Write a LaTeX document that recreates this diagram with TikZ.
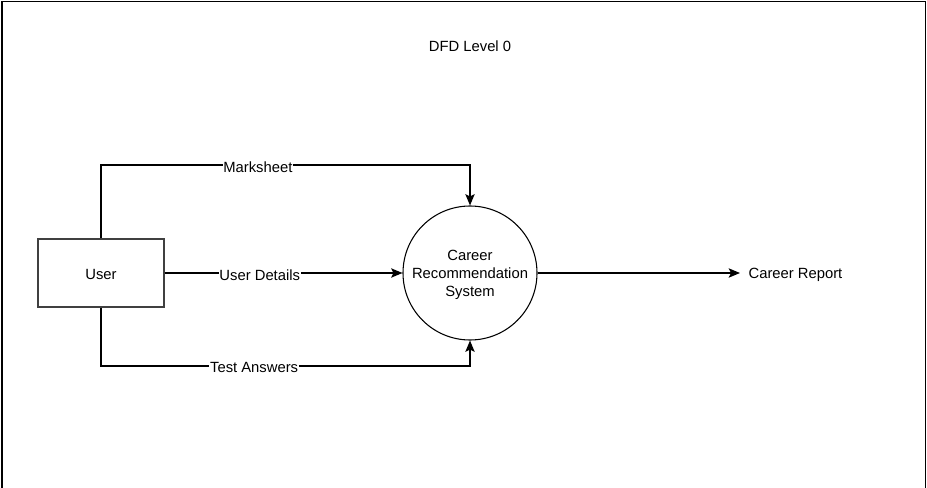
\documentclass[tikz,border=0pt]{standalone}
\usepackage{fontspec}
\setmainfont{Liberation Sans}
\usetikzlibrary{arrows.meta}
\begin{document}
\begin{tikzpicture}[x=0.75pt,y=-0.75pt,
  every node/.style={font=\fontsize{11.1}{13.5}\selectfont, inner sep=1pt},
  flow/.style={draw=black, line width=1pt, -{Stealth[length=8.5pt,width=7pt,inset=1.8pt]}},
  lbl/.style={fill=white, inner sep=0.5pt, yshift=-1.3pt},
  entity/.style={draw=black!75, line width=1pt, minimum width=126*0.75pt, minimum height=68*0.75pt, inner sep=0pt},
  process/.style={draw=black, line width=0.8pt, circle, minimum size=134*0.75pt, inner sep=0pt}]
\useasboundingbox (0,0) rectangle (927,488);
\draw[line width=1.2pt] (1.7,490) -- (1.7,1.4) -- (925.6,1.4) -- (925.6,490);
\node[yshift=-1.3pt] (title) at (470,44) {DFD Level 0};
\node[entity, label={[yshift=-1.3pt]center:User}] (user) at (101,273) {};
\node[process, label={[align=center, yshift=-1.3pt]center:Career\\Recommendation\\System}] (crs) at (470,273) {};
\node[anchor=west, yshift=-1.3pt] (report) at (747,273) {Career Report};
\coordinate (mk1) at (101,165);
\coordinate (mk2) at (470,165);
\coordinate (ta1) at (101,366);
\coordinate (ta2) at (470,366);
\coordinate (rp) at (740,273);
\draw[flow] (user.north) -- (mk1) -- node[lbl, pos=0.425] {Marksheet} (mk2) -- (crs.north);
\draw[flow] (user.east) -- node[lbl, pos=0.4] {User Details} (crs.west);
\draw[flow] (user.south) -- (ta1) -- node[lbl, pos=0.415] {Test Answers} (ta2) -- (crs.south);
\draw[flow] (crs.east) -- (rp);
\end{tikzpicture}
\end{document}
